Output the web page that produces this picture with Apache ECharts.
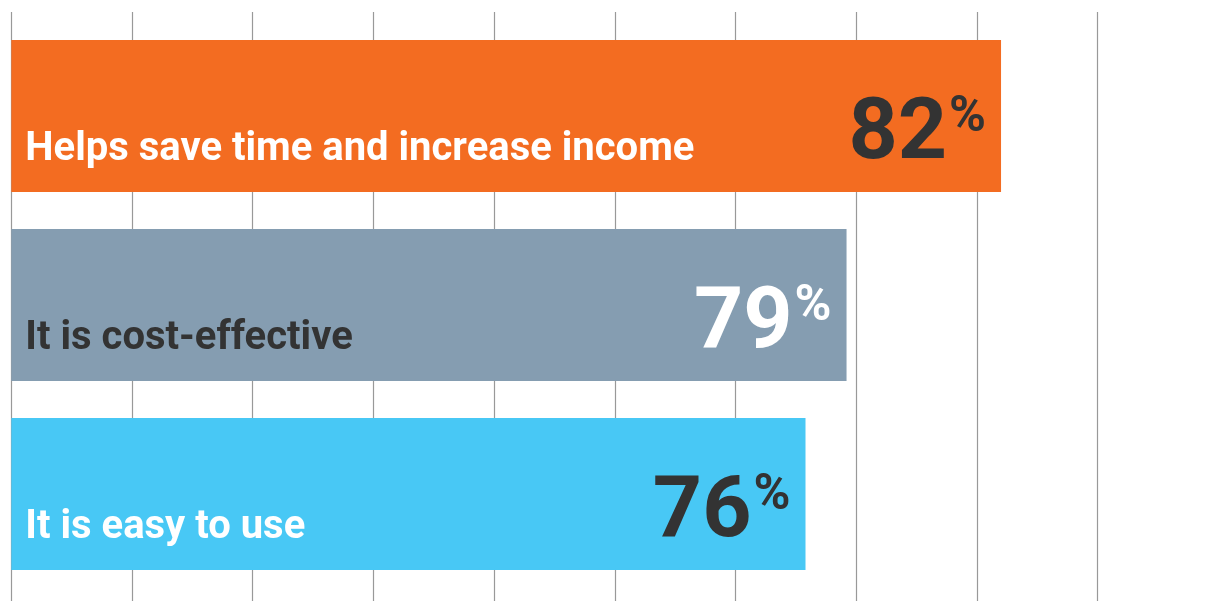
<!DOCTYPE html>
<html>
<head>
<meta charset="utf-8">
<script src="https://cdn.jsdelivr.net/npm/echarts@6/dist/echarts.min.js"></script>
<style>
  html, body { margin: 0; padding: 0; background: #fff; }
  #chart { width: 1219px; height: 601px; }
</style>
</head>
<body>
<div id="chart"></div>
<script>
// data
var categories = ["Helps save time and increase income", "It is cost-effective", "It is easy to use"];
var percentLabels = ["82", "79", "76"];
var barLengths = [82, 69.2, 65.8]; // bar ends as drawn on the 0-100 grid
var barColors = ["#f36c21", "#859db1", "#48c8f5"];
var nameColors = ["#ffffff", "#333333", "#ffffff"];
var valueColors = ["#333333", "#ffffff", "#333333"];

var myChart = echarts.init(document.getElementById("chart"));

var barData = barLengths.map(function (v, i) {
  return {
    value: v,
    itemStyle: { color: barColors[i] },
    label: { color: nameColors[i] }
  };
});
var valueData = barLengths.map(function (v, i) {
  return {
    value: v,
    label: {
      formatter: "{v|" + percentLabels[i] + "}{p|%}",
      rich: {
        v: { fontSize: 86, fontWeight: "bold", fontFamily: "Roboto", color: valueColors[i] },
        p: { fontSize: 50, fontWeight: "bold", fontFamily: "Roboto", color: valueColors[i], verticalAlign: "top", padding: [0, 0, 0, 2] }
      }
    }
  };
});

var option = {
  animation: false,
  grid: [
    { left: 11.3, width: 1207, top: 12, bottom: 0 },   // gridlines only
    { left: 11.3, width: 1207, top: 21.5, height: 567 } // bars
  ],
  xAxis: [
    {
      gridIndex: 0,
      type: "value",
      min: 0,
      max: 100,
      interval: 10,
      axisLine: { show: false },
      axisTick: { show: false },
      axisLabel: { show: false },
      splitLine: { show: true, showMaxLine: false, lineStyle: { color: "#999999", width: 1.2 } }
    },
    {
      gridIndex: 1,
      type: "value",
      min: 0,
      max: 100,
      show: false,
      splitLine: { show: false }
    }
  ],
  yAxis: [
    { gridIndex: 0, type: "category", data: categories, show: false },
    { gridIndex: 1, type: "category", data: categories, inverse: true, show: false }
  ],
  series: [
    {
      type: "bar",
      xAxisIndex: 1,
      yAxisIndex: 1,
      barWidth: 152,
      barGap: "-100%",
      data: barData,
      label: {
        show: true,
        position: "insideLeft",
        distance: 0,
        offset: [14, 34],
        formatter: "{b}",
        fontSize: 40,
        fontWeight: "bold",
        fontFamily: "Roboto"
      }
    },
    {
      type: "bar",
      xAxisIndex: 1,
      yAxisIndex: 1,
      barWidth: 152,
      barGap: "-100%",
      itemStyle: { color: "transparent" },
      data: valueData,
      label: {
        show: true,
        position: "insideRight",
        distance: 0,
        offset: [-15, 20]
      }
    }
  ]
};

myChart.setOption(option);
window.addEventListener("resize", function () {
  myChart.resize();
});
</script>
</body>
</html>
